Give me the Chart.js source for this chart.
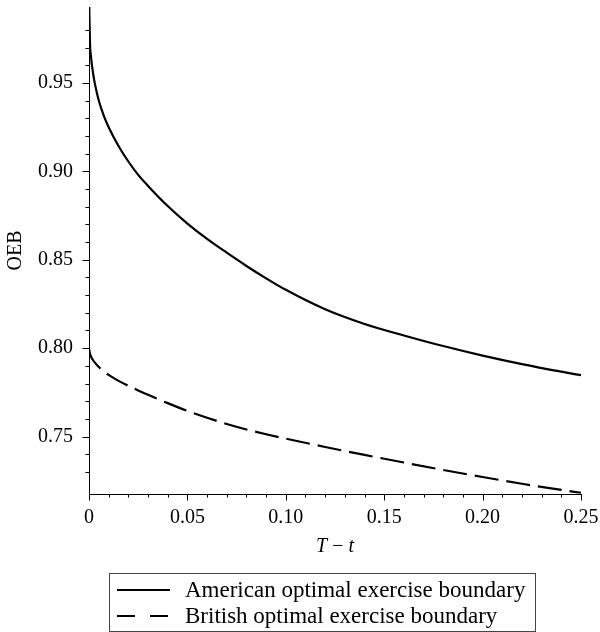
<!DOCTYPE html>
<html>
<head>
<meta charset="utf-8">
<script src="https://cdn.jsdelivr.net/npm/chart.js@4"></script>
<style>
	html, body { margin: 0; padding: 0; background: #fff; }
	#wrap { width: 600px; height: 632px; }
</style>
</head>
<body>
<div id="wrap"><canvas id="oeb_chart" width="600" height="632"></canvas></div>
<script>
// time to expiry T - t
const time_values = [
	0, 0.0005, 0.001, 0.002, 0.003, 0.005, 0.0075, 0.01, 0.015, 0.02, 0.025,
	0.03, 0.04, 0.05, 0.06, 0.07, 0.08, 0.09, 0.1, 0.12, 0.14, 0.16, 0.18, 0.2,
	0.22, 0.24, 0.25,
]
// values
const american_values = [
	1.0, 0.9725, 0.965, 0.956, 0.9495, 0.94, 0.9316, 0.925, 0.9144, 0.9056,
	0.898, 0.8918, 0.8804, 0.8705, 0.8618, 0.854, 0.8465, 0.8395, 0.833,
	0.822, 0.8137, 0.8072, 0.8012, 0.7958, 0.791, 0.7867, 0.7847,
]
const british_values = [
	0.8, 0.7968, 0.7953, 0.7933, 0.7918, 0.7893, 0.7869, 0.7849, 0.7815,
	0.7787, 0.7761, 0.7736, 0.7689, 0.7645, 0.7606, 0.7571, 0.754, 0.7513,
	0.7488, 0.7441, 0.7396, 0.7353, 0.7311, 0.7271, 0.7233, 0.7198, 0.7182,
]
const series_labels = [
	'American optimal exercise boundary',
	'British optimal exercise boundary',
]

const serif = 'Liberation Serif'

function toPoints(values) {
	return time_values.map((t, i) => ({ x: t, y: values[i] }))
}

function isMultiple(v, step) {
	const q = v / step
	return Math.abs(q - Math.round(q)) < 1e-6
}

// major ticks every 0.05, minor every 0.01, drawn outward from the axes
const tick_marks = {
	id: 'tick_marks',
	afterDraw(chart) {
		const ctx = chart.ctx
		const x = chart.scales.x
		const y = chart.scales.y
		const area = chart.chartArea
		ctx.save()
		ctx.strokeStyle = '#000'
		ctx.lineWidth = 1
		ctx.beginPath()
		x.ticks.forEach((t) => {
			if (!isMultiple(t.value, 0.01)) return
			const len = isMultiple(t.value, 0.05) ? 6.5 : 3.5
			const px = Math.round(x.getPixelForValue(t.value)) + 0.5
			ctx.moveTo(px, area.bottom)
			ctx.lineTo(px, area.bottom + len)
		})
		y.ticks.forEach((t) => {
			if (!isMultiple(t.value, 0.01)) return
			const len = isMultiple(t.value, 0.05) ? 6.5 : 3.5
			const py = Math.round(y.getPixelForValue(t.value)) + 0.5
			ctx.moveTo(area.left, py)
			ctx.lineTo(area.left - len, py)
		})
		ctx.stroke()
		ctx.restore()
	},
}

// boxed legend under the x axis title
const boxed_legend = {
	id: 'boxed_legend',
	afterDraw(chart) {
		const ctx = chart.ctx
		ctx.save()
		ctx.strokeStyle = '#444'
		ctx.lineWidth = 1
		ctx.strokeRect(109.5, 573.5, 426, 58)
		ctx.font = '23px "' + serif + '"'
		ctx.fillStyle = '#000'
		ctx.textBaseline = 'middle'
		const rows = [590, 616]
		chart.data.datasets.forEach((ds, i) => {
			const yRow = rows[i]
			ctx.strokeStyle = ds.borderColor
			ctx.lineWidth = ds.borderWidth
			ctx.setLineDash(ds.legendDash || [])
			ctx.beginPath()
			ctx.moveTo(117, yRow)
			ctx.lineTo(170, yRow)
			ctx.stroke()
			ctx.setLineDash([])
			ctx.fillText(ds.label, 185, yRow + 1)
		})
		ctx.restore()
	},
}

// eslint-disable-next-line
const oeb_chart = new Chart(document.getElementById('oeb_chart'), {
	type: 'line',
	data: {
		datasets: [
			{
				label: series_labels[0],
				data: toPoints(american_values),
				borderColor: '#000',
				borderWidth: 2.2,
				pointRadius: 0,
				cubicInterpolationMode: 'monotone',
			},
			{
				label: series_labels[1],
				data: toPoints(british_values),
				borderColor: '#000',
				borderWidth: 2.2,
				borderDash: [24, 8],
				legendDash: [18, 15],
				pointRadius: 0,
				cubicInterpolationMode: 'monotone',
			},
		],
	},
	options: {
		responsive: false,
		animation: false,
		events: [],
		layout: { padding: { top: 7, right: 19, left: 0, bottom: 0 } },
		plugins: {
			legend: { display: false },
			tooltip: { enabled: false },
		},
		scales: {
			x: {
				type: 'linear',
				min: 0,
				max: 0.25,
				grid: { display: false, drawTicks: false },
				border: { display: true, color: '#000', width: 1 },
				ticks: {
					stepSize: 0.01,
					autoSkip: false,
					maxRotation: 0,
					padding: 12,
					color: '#000',
					font: { family: serif, size: 20 },
					callback: (v) =>
						isMultiple(v, 0.05) ? (v === 0 ? '0' : v.toFixed(2)) : '',
				},
				title: {
					display: true,
					text: 'T\u2009\u2212\u2009t',
					color: '#000',
					font: { family: serif, size: 20, style: 'italic' },
					padding: { top: 0, bottom: 73 },
				},
				afterFit: (scale) => {
					scale.height = 138
					scale.paddingLeft = 0
					scale.paddingRight = 0
				},
			},
			y: {
				type: 'linear',
				min: 0.7175,
				max: 0.993,
				grid: { display: false, drawTicks: false },
				border: { display: true, color: '#000', width: 1 },
				ticks: {
					stepSize: 0.01,
					autoSkip: false,
					padding: 16,
					color: '#000',
					font: { family: serif, size: 20 },
					callback: (v) => (isMultiple(v, 0.05) ? v.toFixed(2) : ''),
				},
				title: {
					display: true,
					text: 'OEB',
					color: '#000',
					font: { family: serif, size: 20 },
					padding: { top: 4, bottom: 0 },
				},
				afterFit: (scale) => {
					scale.width = 89
					scale.paddingTop = 0
					scale.paddingBottom = 0
				},
			},
		},
	},
	plugins: [tick_marks, boxed_legend],
})
</script>
</body>
</html>
